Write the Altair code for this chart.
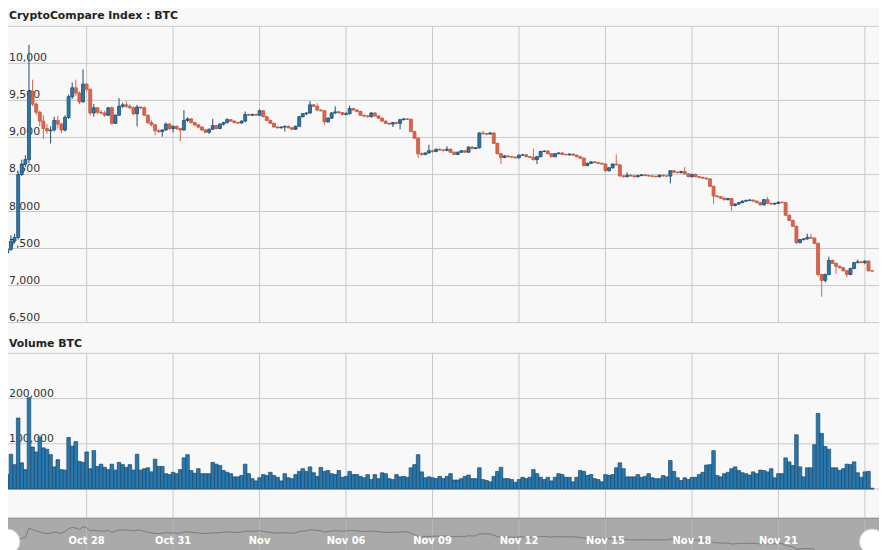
import altair as alt
import pandas as pd

# ---------------- data (3-hour candles, CryptoCompare Index BTC) ----------------
opens = [
    7440, 7490, 7600, 7650, 8500, 8640, 8700, 9620, 9450, 9340,
    9220, 9120, 9090, 9100, 9230, 9180, 9100, 9270, 9550, 9670,
    9600, 9480, 9720, 9650, 9330, 9400, 9340, 9330, 9300, 9400,
    9190, 9300, 9420, 9440, 9420, 9400, 9320, 9410, 9400, 9300,
    9200, 9170, 9090, 9080, 9100, 9180, 9120, 9150, 9120, 9100,
    9230, 9250, 9200, 9170, 9140, 9100, 9070, 9110, 9160, 9120,
    9180, 9200, 9240, 9220, 9200, 9195, 9220, 9310, 9300, 9310,
    9300, 9360, 9280, 9230, 9190, 9140, 9130, 9140, 9150, 9130,
    9110, 9150, 9280, 9320, 9330, 9440, 9420, 9370, 9360, 9210,
    9260, 9330, 9345, 9335, 9310, 9320, 9390, 9370, 9350, 9300,
    9290, 9280, 9330, 9290, 9260, 9220, 9190, 9180, 9200, 9190,
    9240, 9250, 9245, 9080, 8990, 8780, 8770, 8790, 8820, 8810,
    8840, 8830, 8825, 8840, 8800, 8770, 8800, 8820, 8800, 8870,
    8850, 8860, 9060, 9050, 9045, 9060, 8920, 8780, 8730, 8750,
    8740, 8735, 8725, 8760, 8765, 8740, 8730, 8700, 8740, 8810,
    8815, 8780, 8740, 8780, 8790, 8770, 8765, 8775, 8760, 8740,
    8720, 8620, 8650, 8670, 8660, 8650, 8640, 8550, 8590, 8640,
    8630, 8480, 8470, 8490, 8480, 8470, 8485, 8495, 8485, 8480,
    8475, 8470, 8490, 8480, 8478, 8550, 8530, 8525, 8540, 8510,
    8470, 8500, 8470, 8460, 8450, 8440, 8340, 8210, 8200, 8180,
    8160, 8175, 8080, 8100, 8120, 8140, 8150, 8155, 8140, 8120,
    8090, 8160, 8110, 8100, 8110, 8125, 8120, 7950, 7880, 7800,
    7580, 7620, 7630, 7650, 7640, 7570, 7150, 7070, 7150, 7340,
    7300, 7260, 7240, 7200, 7150, 7230, 7310, 7320, 7310, 7330,
    7200,
]
highs = [
    7500, 7680, 7700, 8530, 8700, 8760, 10250, 9780, 9470, 9360,
    9300, 9180, 9150, 9280, 9290, 9200, 9300, 9580, 9740, 9780,
    9620, 9920, 9730, 9660, 9450, 9410, 9370, 9360, 9410, 9420,
    9310, 9530, 9470, 9490, 9450, 9420, 9440, 9420, 9420, 9310,
    9230, 9180, 9110, 9110, 9200, 9190, 9160, 9160, 9130, 9370,
    9270, 9260, 9210, 9180, 9150, 9110, 9120, 9250, 9170, 9190,
    9210, 9260, 9250, 9230, 9210, 9230, 9350, 9320, 9320, 9320,
    9380, 9370, 9290, 9240, 9200, 9150, 9150, 9160, 9160, 9140,
    9160, 9290, 9330, 9340, 9490, 9450, 9460, 9380, 9370, 9270,
    9340, 9420, 9360, 9340, 9345, 9430, 9400, 9380, 9360, 9310,
    9300, 9340, 9340, 9300, 9270, 9230, 9200, 9210, 9210, 9250,
    9260, 9260, 9250, 9090, 9000, 8800, 8800, 8900, 8830, 8850,
    8850, 8840, 8880, 8850, 8810, 8810, 8830, 8830, 8880, 8880,
    8870, 9070, 9090, 9060, 9070, 9070, 8930, 8790, 8760, 8760,
    8750, 8745, 8770, 8775, 8775, 8750, 8850, 8750, 8820, 8830,
    8830, 8790, 8790, 8800, 8800, 8780, 8785, 8780, 8770, 8750,
    8730, 8660, 8680, 8680, 8670, 8660, 8650, 8600, 8650, 8770,
    8640, 8490, 8530, 8500, 8490, 8495, 8505, 8505, 8490, 8490,
    8485, 8500, 8500, 8490, 8560, 8560, 8540, 8550, 8600, 8520,
    8510, 8510, 8480, 8470, 8460, 8450, 8350, 8220, 8210, 8190,
    8185, 8180, 8110, 8130, 8150, 8160, 8165, 8160, 8150, 8130,
    8170, 8200, 8120, 8120, 8135, 8135, 8130, 7960, 7890, 7810,
    7630, 7640, 7700, 7700, 7650, 7580, 7160, 7160, 7390, 7350,
    7310, 7270, 7250, 7210, 7240, 7320, 7350, 7330, 7340, 7340,
    7210,
]
lows = [
    7420, 7470, 7570, 7620, 8480, 8600, 8650, 9420, 9300, 9150,
    8980, 9050, 8920, 9080, 9120, 9060, 9080, 9250, 9520, 9560,
    9450, 9470, 9620, 9300, 9280, 9310, 9310, 9280, 9290, 9170,
    9180, 9290, 9400, 9400, 9380, 9300, 9150, 9380, 9290, 9180,
    9150, 9030, 9060, 9010, 9090, 9100, 9070, 9100, 8950, 9090,
    9210, 9190, 9150, 9120, 9090, 9060, 9050, 9100, 9110, 9110,
    9160, 9190, 9210, 9190, 9180, 9185, 9210, 9290, 9290, 9290,
    9290, 9270, 9220, 9180, 9130, 9120, 9120, 9080, 9120, 9100,
    9100, 9140, 9270, 9300, 9320, 9410, 9350, 9350, 9170, 9200,
    9250, 9320, 9320, 9300, 9300, 9310, 9360, 9340, 9290, 9270,
    9270, 9270, 9280, 9250, 9210, 9180, 9170, 9140, 9180, 9110,
    9230, 9235, 9070, 8980, 8720, 8750, 8760, 8780, 8790, 8800,
    8820, 8810, 8815, 8790, 8760, 8760, 8790, 8790, 8790, 8840,
    8840, 8850, 9040, 9030, 9040, 8910, 8770, 8640, 8720, 8730,
    8720, 8715, 8715, 8750, 8730, 8720, 8690, 8640, 8730, 8800,
    8770, 8730, 8730, 8770, 8760, 8760, 8755, 8750, 8730, 8710,
    8610, 8610, 8640, 8650, 8640, 8630, 8540, 8540, 8580, 8620,
    8470, 8460, 8460, 8470, 8460, 8460, 8475, 8475, 8470, 8465,
    8460, 8460, 8470, 8470, 8380, 8520, 8515, 8515, 8500, 8460,
    8460, 8460, 8450, 8440, 8430, 8330, 8100, 8190, 8170, 8150,
    8150, 8010, 8070, 8090, 8110, 8130, 8140, 8130, 8110, 8080,
    8080, 8100, 8090, 8090, 8100, 8110, 7940, 7870, 7790, 7560,
    7570, 7610, 7620, 7630, 7560, 7120, 6850, 7040, 7140, 7290,
    7160, 7230, 7190, 7110, 7140, 7220, 7300, 7300, 7290, 7190,
    7190,
]
closes = [
    7490, 7600, 7650, 8500, 8640, 8700, 9620, 9450, 9340, 9220,
    9120, 9090, 9100, 9230, 9180, 9100, 9270, 9550, 9670, 9600,
    9480, 9720, 9650, 9330, 9400, 9340, 9330, 9300, 9400, 9190,
    9300, 9420, 9440, 9420, 9400, 9320, 9410, 9400, 9300, 9200,
    9170, 9090, 9080, 9100, 9180, 9120, 9150, 9120, 9100, 9230,
    9250, 9200, 9170, 9140, 9100, 9070, 9110, 9160, 9120, 9180,
    9200, 9240, 9220, 9200, 9195, 9220, 9310, 9300, 9310, 9300,
    9360, 9280, 9230, 9190, 9140, 9130, 9140, 9150, 9130, 9110,
    9150, 9280, 9320, 9330, 9440, 9420, 9370, 9360, 9210, 9260,
    9330, 9345, 9335, 9310, 9320, 9390, 9370, 9350, 9300, 9290,
    9280, 9330, 9290, 9260, 9220, 9190, 9180, 9200, 9190, 9240,
    9250, 9245, 9080, 8990, 8780, 8770, 8790, 8820, 8810, 8840,
    8830, 8825, 8840, 8800, 8770, 8800, 8820, 8800, 8870, 8850,
    8860, 9060, 9050, 9045, 9060, 8920, 8780, 8730, 8750, 8740,
    8735, 8725, 8760, 8765, 8740, 8730, 8700, 8740, 8810, 8815,
    8780, 8740, 8780, 8790, 8770, 8765, 8775, 8760, 8740, 8720,
    8620, 8650, 8670, 8660, 8650, 8640, 8550, 8590, 8640, 8630,
    8480, 8470, 8490, 8480, 8470, 8485, 8495, 8485, 8480, 8475,
    8470, 8490, 8480, 8478, 8550, 8530, 8525, 8540, 8510, 8470,
    8500, 8470, 8460, 8450, 8440, 8340, 8210, 8200, 8180, 8160,
    8175, 8080, 8100, 8120, 8140, 8150, 8155, 8140, 8120, 8090,
    8160, 8110, 8100, 8110, 8125, 8120, 7950, 7880, 7800, 7580,
    7620, 7630, 7650, 7640, 7570, 7150, 7070, 7150, 7340, 7300,
    7260, 7240, 7200, 7150, 7230, 7310, 7320, 7310, 7330, 7200,
    7195,
]
volumes = [
    32000, 77000, 54000, 157000, 58000, 43000, 202000, 93000, 82000, 115000,
    91000, 88000, 76000, 49000, 65000, 43000, 42000, 114000, 95000, 105000,
    61000, 59000, 82000, 45000, 85000, 50000, 55000, 48000, 43000, 55000,
    42000, 59000, 54000, 48000, 54000, 42000, 77000, 42000, 45000, 47000,
    38000, 66000, 50000, 50000, 34000, 32000, 37000, 34000, 43000, 69000,
    76000, 41000, 35000, 45000, 34000, 34000, 34000, 59000, 55000, 52000,
    41000, 37000, 34000, 27000, 27000, 30000, 55000, 34000, 23000, 18000,
    25000, 32000, 30000, 37000, 30000, 26000, 18000, 34000, 25000, 23000,
    32000, 39000, 45000, 39000, 49000, 36000, 28000, 48000, 39000, 41000,
    34000, 32000, 41000, 26000, 28000, 39000, 32000, 32000, 28000, 25000,
    32000, 21000, 32000, 23000, 36000, 34000, 23000, 21000, 32000, 27000,
    28000, 26000, 47000, 54000, 76000, 38000, 25000, 27000, 25000, 23000,
    28000, 23000, 28000, 34000, 20000, 20000, 23000, 28000, 31000, 23000,
    23000, 47000, 21000, 19000, 16000, 28000, 39000, 48000, 23000, 23000,
    21000, 15000, 21000, 26000, 23000, 26000, 43000, 34000, 26000, 21000,
    26000, 18000, 26000, 34000, 32000, 26000, 26000, 16000, 26000, 41000,
    39000, 30000, 32000, 23000, 21000, 16000, 32000, 30000, 32000, 47000,
    58000, 45000, 27000, 27000, 27000, 32000, 26000, 28000, 34000, 25000,
    23000, 23000, 30000, 27000, 63000, 39000, 25000, 19000, 25000, 21000,
    26000, 26000, 32000, 37000, 53000, 54000, 85000, 30000, 27000, 34000,
    37000, 45000, 49000, 41000, 36000, 34000, 31000, 38000, 34000, 42000,
    41000, 38000, 45000, 25000, 34000, 34000, 69000, 60000, 52000, 120000,
    49000, 27000, 47000, 47000, 98000, 167000, 123000, 94000, 88000, 47000,
    47000, 41000, 45000, 55000, 54000, 60000, 36000, 26000, 38000, 39000,
    2000,
]

grid_days = [0, 3, 6, 9, 12, 15, 18, 21, 24, 27]
x_labels = ["Oct 28", "Oct 31", "Nov", "Nov 06", "Nov 09", "Nov 12", "Nov 15", "Nov 18", "Nov 21"]
price_ticks = [6500, 7000, 7500, 8000, 8500, 9000, 9500, 10000]
price_labels = ["6,500", "7,000", "7,500", "8,000", "8,500", "9,000", "9,500", "10,000"]
vol_ticks = [0, 100000, 200000]
vol_labels = ["0", "100,000", "200,000"]

# ---------------- frames ----------------
start = pd.Timestamp("2019-10-25 06:00")
ref = pd.Timestamp("2019-10-28 00:00")
times = pd.date_range(start, periods=len(closes), freq="3h")
days = [(ts - ref) / pd.Timedelta(days=1) for ts in times]

df = pd.DataFrame({"t": days, "open": opens, "high": highs, "low": lows,
                   "close": closes, "volume": volumes})
gdf = pd.DataFrame({"d": grid_days})
ldf = pd.DataFrame({"d": grid_days[:len(x_labels)], "s": x_labels})
pgdf = pd.DataFrame({"v": price_ticks + [10500]})
pldf = pd.DataFrame({"v": price_ticks, "s": price_labels})
vgdf = pd.DataFrame({"v": vol_ticks + [300000]})
vldf = pd.DataFrame({"v": vol_ticks, "s": vol_labels})
hdf = pd.DataFrame({"t": [days[0], days[-1]]})

# ---------------- style ----------------
W, H = 887, 550
TEXT_X = 9          # page margin hides x < 8, keep text clear of it
BG = "#f8f8f8"
GRID = "#c8c8c8"
UP = "#2a77ae"
UP_LINE = "#1d4c70"
DOWN = "#d9654e"
DOWN_LINE = "#c4563f"
VOL = "#2878b0"
VOL_LINE = "#1d4665"
NAV_BG = "#aaaaaa"
NAV_LINE = "#7a7a7a"
NAV_GRID = "#b9b9b9"
FONT = "DejaVu Sans"
TXT = "#333333"

xs = alt.Scale(domain=[-2.831, 27.318])
ps = alt.Scale(domain=[6500, 10500], range=[323, 24])
vs = alt.Scale(domain=[0, 300000], range=[491, 354])
ns = alt.Scale(domain=[6800, 10300], range=[560, 523])

X = alt.X("t:Q", scale=xs, axis=None)
up_test = "datum.close >= datum.open"

# ---------------- price panel ----------------
p_hgrid = alt.Chart(pgdf).mark_rule(color=GRID, strokeWidth=1).encode(
    y=alt.Y("v:Q", scale=ps, axis=None), x=alt.value(0), x2=alt.value(W))
p_vgrid = alt.Chart(gdf).mark_rule(color=GRID, strokeWidth=1).encode(
    x=alt.X("d:Q", scale=xs, axis=None), y=alt.value(24), y2=alt.value(323))
p_labels = alt.Chart(pldf).mark_text(
    align="left", baseline="alphabetic", dy=-2, fontSize=11, font=FONT, color=TXT
).encode(x=alt.value(TEXT_X), y=alt.Y("v:Q", scale=ps, axis=None), text="s:N")
p_title = alt.Chart(pd.DataFrame({"s": ["CryptoCompare Index : BTC"]})).mark_text(
    align="left", baseline="alphabetic", fontSize=11, fontWeight="bold", font=FONT, color="#222222"
).encode(x=alt.value(TEXT_X), y=alt.value(17), text="s:N")
wicks = alt.Chart(df).mark_rule(strokeWidth=1).encode(
    x=X, y=alt.Y("low:Q", scale=ps, axis=None), y2="high:Q",
    color=alt.condition(up_test, alt.value(UP_LINE), alt.value(DOWN)))
bodies = alt.Chart(df).mark_bar(size=3, strokeWidth=0.8).encode(
    x=X, y=alt.Y("open:Q", scale=ps, axis=None), y2="close:Q",
    color=alt.condition(up_test, alt.value(UP), alt.value(DOWN)),
    stroke=alt.condition(up_test, alt.value(UP_LINE), alt.value(DOWN_LINE)))
price = alt.layer(p_hgrid, p_vgrid, p_labels, p_title, wicks, bodies)

# ---------------- volume panel ----------------
v_hgrid = alt.Chart(vgdf).mark_rule(color=GRID, strokeWidth=1).encode(
    y=alt.Y("v:Q", scale=vs, axis=None), x=alt.value(0), x2=alt.value(W))
v_vgrid = alt.Chart(gdf).mark_rule(color=GRID, strokeWidth=1).encode(
    x=alt.X("d:Q", scale=xs, axis=None), y=alt.value(354), y2=alt.value(520))
v_labels = alt.Chart(vldf).mark_text(
    align="left", baseline="alphabetic", dy=-2, fontSize=11, font=FONT, color=TXT
).encode(x=alt.value(TEXT_X), y=alt.Y("v:Q", scale=vs, axis=None), text="s:N")
v_title = alt.Chart(pd.DataFrame({"s": ["Volume BTC"]})).mark_text(
    align="left", baseline="alphabetic", fontSize=11, fontWeight="bold", font=FONT, color="#222222"
).encode(x=alt.value(TEXT_X), y=alt.value(348), text="s:N")
v_bars = alt.Chart(df).mark_bar(size=3.6, color=VOL, stroke=VOL_LINE, strokeWidth=0.7).encode(
    x=X, y=alt.Y("volume:Q", scale=vs, axis=None))
volume = alt.layer(v_hgrid, v_vgrid, v_labels, v_title, v_bars)

# ---------------- navigator ----------------
n_bg = alt.Chart(pd.DataFrame({"a": [0]})).mark_rect(color=NAV_BG).encode(
    x=alt.value(0), x2=alt.value(W), y=alt.value(520), y2=alt.value(H + 20))
n_top = alt.Chart(pd.DataFrame({"a": [0]})).mark_rule(color="#8e8e8e", strokeWidth=1).encode(
    x=alt.value(0), x2=alt.value(W), y=alt.value(520.5))
n_grid = alt.Chart(gdf).mark_rule(color=NAV_GRID, strokeWidth=1).encode(
    x=alt.X("d:Q", scale=xs, axis=None), y=alt.value(521), y2=alt.value(H + 20))
n_line = alt.Chart(df).mark_line(color=NAV_LINE, strokeWidth=1).encode(
    x=X, y=alt.Y("close:Q", scale=ns, axis=None))
n_labels = alt.Chart(ldf).mark_text(
    align="center", baseline="alphabetic", fontSize=10, fontWeight="bold", font=FONT, color="#ffffff"
).encode(x=alt.X("d:Q", scale=xs, axis=None), y=alt.value(546), text="s:N")
n_handles = alt.Chart(hdf).mark_point(
    shape="circle", filled=True, fill="#ffffff", stroke="#cfcfcf", strokeWidth=1, size=650, opacity=1
).encode(x=X, y=alt.value(544))
nav = alt.layer(n_bg, n_grid, n_top, n_line, n_labels, n_handles)

chart = (
    alt.layer(price, volume, nav)
    .resolve_scale(y="independent")
    .properties(
        width=W, height=H,
        autosize=alt.AutoSizeParams(type="none"),
        padding={"left": -8, "top": -8, "right": 0, "bottom": 0},
    )
    .configure(background=BG)
    .configure_view(stroke=None)
)

chart.save("out.html", embed_options={"renderer": "svg", "actions": False})
